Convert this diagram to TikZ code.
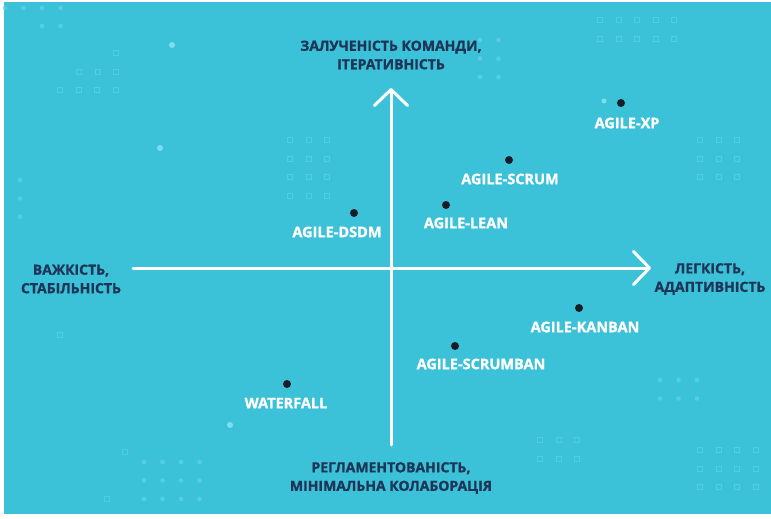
\documentclass[tikz,border=0pt]{standalone}
\usepackage{fontspec}
\setmainfont{Open Sans}
\newfontfamily\heavyfont{Open Sans}[UprightFeatures={FakeBold=1.2}, BoldFeatures={FakeBold=1.2}]
\usetikzlibrary{arrows.meta}
\definecolor{bgcyan}{HTML}{3CC2D8}
\definecolor{decocyan}{HTML}{62D3E6}
\definecolor{glow}{HTML}{8FE6F5}
\definecolor{navy}{HTML}{1E3557}
\definecolor{dotblack}{HTML}{1A1D26}
\tikzset{
  axis/.style={white, line width=3pt, line cap=round,
    -{Straight Barb[length=16pt,width=33pt,line width=3pt,round]}},
  pointdot/.style={circle, fill=dotblack, inner sep=0pt, minimum size=8pt},
  methodlabel/.style={text=white, font=\heavyfont\fontsize{14.5}{14.5}\selectfont\bfseries, inner sep=0pt},
  axislabel/.style={text=navy, font=\heavyfont\fontsize{14}{18.5}\selectfont\bfseries, align=center, inner sep=0pt},
  decosq/.style={draw=decocyan, line width=0.8pt, opacity=0.6},
  decodot/.style={fill=decocyan, opacity=0.7},
}
\newcommand{\sqgrid}[4]{% x0,y0,cols,rows
  \foreach \i in {1,...,#3}{\foreach \j in {1,...,#4}{
    \draw[decosq] ({#1+(\i-1)*18.5-2.5},{#2+(\j-1)*18.5-2.5}) rectangle ++(5,5);}}}
\newcommand{\dotgrid}[4]{%
  \foreach \i in {1,...,#3}{\foreach \j in {1,...,#4}{
    \fill[decodot] ({#1+(\i-1)*18.5},{#2+(\j-1)*18.5}) circle (2.3pt);}}}
\begin{document}
\begin{tikzpicture}[x=1pt,y=-1pt]
\useasboundingbox (0,0) rectangle (771,519);
\fill[white] (0,0) rectangle (771,519);
\fill[bgcyan] (4,2) rectangle (771,514);
% background decoration
\dotgrid{5}{8}{4}{1}
\dotgrid{42}{26}{2}{1}
\sqgrid{116}{53}{1}{1}
\sqgrid{79}{72}{3}{1}
\sqgrid{60}{90}{4}{1}
\fill[glow,opacity=0.8] (172,45) circle (3pt);
\dotgrid{144}{462}{4}{3}
\sqgrid{125}{452}{1}{1}
\sqgrid{107}{499}{1}{1}
\sqgrid{60}{335}{1}{1}
\sqgrid{290}{140}{3}{4}
\sqgrid{700}{450}{4}{3}
\dotgrid{660}{380}{3}{2}
\sqgrid{600}{20}{5}{2}
\dotgrid{480}{40}{2}{3}
\sqgrid{540}{440}{3}{2}
\dotgrid{20}{180}{1}{3}
\sqgrid{700}{140}{3}{3}
\fill[glow,opacity=0.8] (160,148) circle (3pt);
\fill[glow,opacity=0.8] (230,425) circle (3pt);
\fill[glow,opacity=0.8] (604,101) circle (2.5pt);
% axes
\coordinate (left) at (133,268);
\coordinate (right) at (651,268);
\coordinate (bottom) at (391,445);
\coordinate (top) at (391,88);
\draw[axis] (left) -- (right);
\draw[axis] (bottom) -- (top);
% axis labels
\node[axislabel] (lt) at (391,55) {ЗАЛУЧЕНІСТЬ КОМАНДИ,\\ІТЕРАТИВНІСТЬ};
\node[axislabel] (lb) at (391,478) {РЕГЛАМЕНТОВАНІСТЬ,\\МІНІМАЛЬНА КОЛАБОРАЦІЯ};
\node[axislabel] (ll) at (71,279) {ВАЖКІСТЬ,\\СТАБІЛЬНІСТЬ};
\node[axislabel] (lr) at (710,279) {ЛЕГКІСТЬ,\\АДАПТИВНІСТЬ};
% points
\node[pointdot] (xp) at (621,103) {};
\node[methodlabel] (xpl) at (627,123) {AGILE-XP};
\node[pointdot] (scrum) at (509,160) {};
\node[methodlabel] (scruml) at (510,179) {AGILE-SCRUM};
\node[pointdot] (lean) at (446,205) {};
\node[methodlabel] (leanl) at (466,223) {AGILE-LEAN};
\node[pointdot] (dsdm) at (354,213) {};
\node[methodlabel] (dsdml) at (337,232) {AGILE-DSDM};
\node[pointdot] (kanban) at (579,308) {};
\node[methodlabel] (kanbanl) at (585,327) {AGILE-KANBAN};
\node[pointdot] (scrumban) at (455,346) {};
\node[methodlabel] (scrumbanl) at (481,364) {AGILE-SCRUMBAN};
\node[pointdot] (waterfall) at (287,384) {};
\node[methodlabel] (waterfalll) at (286,403) {WATERFALL};
\end{tikzpicture}
\end{document}
